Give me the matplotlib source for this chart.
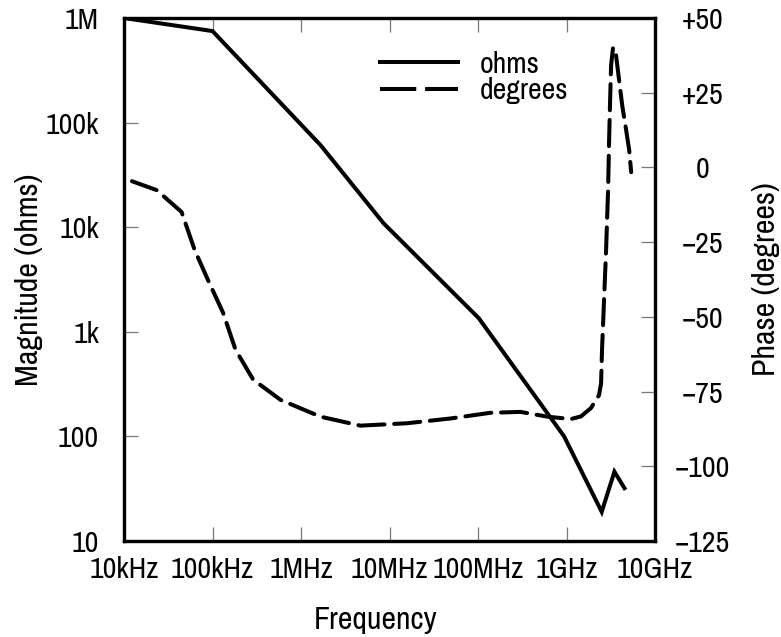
import matplotlib
matplotlib.use("Agg")
import matplotlib.pyplot as plt
from matplotlib.lines import Line2D
from matplotlib import font_manager

# pick a narrow sans if one is installed, else plain Liberation Sans
names = {f.name for f in font_manager.fontManager.ttflist}
narrow = [n for n in names if "Narrow" in n or "Condensed" in n]
plt.rcParams['font.family'] = sorted(narrow) + ['Liberation Sans', 'DejaVu Sans']
plt.rcParams['font.stretch'] = 'condensed'

# impedance magnitude (ohms) vs frequency (Hz)
mag_freq = [1e4, 1e5, 1.66e6, 8.57e6, 1.02e8, 9.4e8, 2.5e9, 3.48e9, 4.52e9]
mag_ohms = [1e6, 7.5e5, 6.1e4, 1.09e4, 1.35e3, 100, 19, 46, 32]

# phase (degrees) vs frequency (Hz)
phase_freq = [1.23e4, 2.34e4, 4.47e4, 6.3e4, 8.9e4, 1.32e5, 1.82e5, 2.88e5,
              5.89e5, 1.66e6, 4.7e6, 1.58e7, 4.9e7, 1.38e8, 3.02e8, 6.12e8,
              1.12e9, 1.46e9, 1.89e9, 2.33e9, 2.46e9, 2.52e9, 2.80e9, 2.95e9,
              3.03e9, 3.11e9, 3.19e9, 3.36e9, 3.63e9, 3.93e9, 4.26e9, 4.72e9,
              5.11e9, 5.38e9]
phase_deg = [-4.6, -7.6, -14.9, -27.7, -37.7, -48.7, -61, -71,
             -77.8, -83.4, -86.4, -85.6, -84, -82.1, -81.8, -83.4,
             -84.2, -83.3, -80.5, -76.2, -72.2, -61, -27.7, -7.6,
             9.1, 22.5, 34.2, 40.2, 37.5, 29.2, 20.8, 12.5,
             5.8, -1.6]

x_ticks = [1e4, 1e5, 1e6, 1e7, 1e8, 1e9, 1e10]
x_labels = ["10kHz", "100kHz", "1MHz", "10MHz", "100MHz", "1GHz", "10GHz"]
mag_ticks = [10, 100, 1e3, 1e4, 1e5, 1e6]
mag_labels = ["10", "100", "1k", "10k", "100k", "1M"]
phase_ticks = [-125, -100, -75, -50, -25, 0, 25, 50]
phase_labels = ["\u2212125", "\u2212100", "\u221275", "\u221250", "\u221225", "0", "+25", "+50"]

LW = 2.9
FS = 21.5
TICK = dict(direction="in", length=10, width=0.9, color="#777777",
            labelcolor="black", labelsize=FS)

fig = plt.figure(figsize=(7.81, 6.37), dpi=100)
ax = fig.add_axes([124 / 781, 96 / 637, 531 / 781, 523 / 637])
ax2 = ax.twinx()

ax.plot(mag_freq, mag_ohms, color="black", lw=LW, solid_joinstyle="miter")
ax2.plot(phase_freq, phase_deg, color="black", lw=LW, dashes=(6.5, 2.4),
         dash_capstyle="round")

ax.set_xscale("log"); ax.set_yscale("log")
ax.set_xlim(1e4, 1e10); ax.set_ylim(10, 1e6)
ax2.set_ylim(-125, 50)

ax.set_xticks(x_ticks, x_labels)
ax.set_yticks(mag_ticks, mag_labels)
ax.minorticks_off()
ax2.set_yticks(phase_ticks, phase_labels)

ax.tick_params(axis="x", top=True, pad=11, **TICK)
ax.tick_params(axis="y", left=True, right=False, pad=18, **TICK)
ax2.tick_params(axis="y", right=True, pad=34, **TICK)
for t in ax2.get_yticklabels():
    t.set_horizontalalignment("center")

for a in (ax, ax2):
    for s in a.spines.values():
        s.set_linewidth(2.3)

ax.set_xlabel("Frequency", fontsize=23)
ax.xaxis.set_label_coords(0.473, -0.124)
ax.set_ylabel("Magnitude (ohms)", fontsize=23)
ax.yaxis.set_label_coords(-0.152, 0.5)
ax2.set_ylabel("Phase (degrees)", fontsize=23, rotation=90)
ax2.yaxis.set_label_coords(1.183, 0.5)

handles = [Line2D([0], [0], color="black", lw=LW),
           Line2D([0], [0], color="black", lw=LW, dashes=(9, 2.2))]
ax.legend(handles, ["ohms", "degrees"], loc="upper left",
          bbox_to_anchor=(0.46, 0.96), frameon=False, fontsize=FS,
          handlelength=2.6, handletextpad=0.75, labelspacing=-0.02,
          borderaxespad=0)

fig.savefig("out.png", dpi=100)
